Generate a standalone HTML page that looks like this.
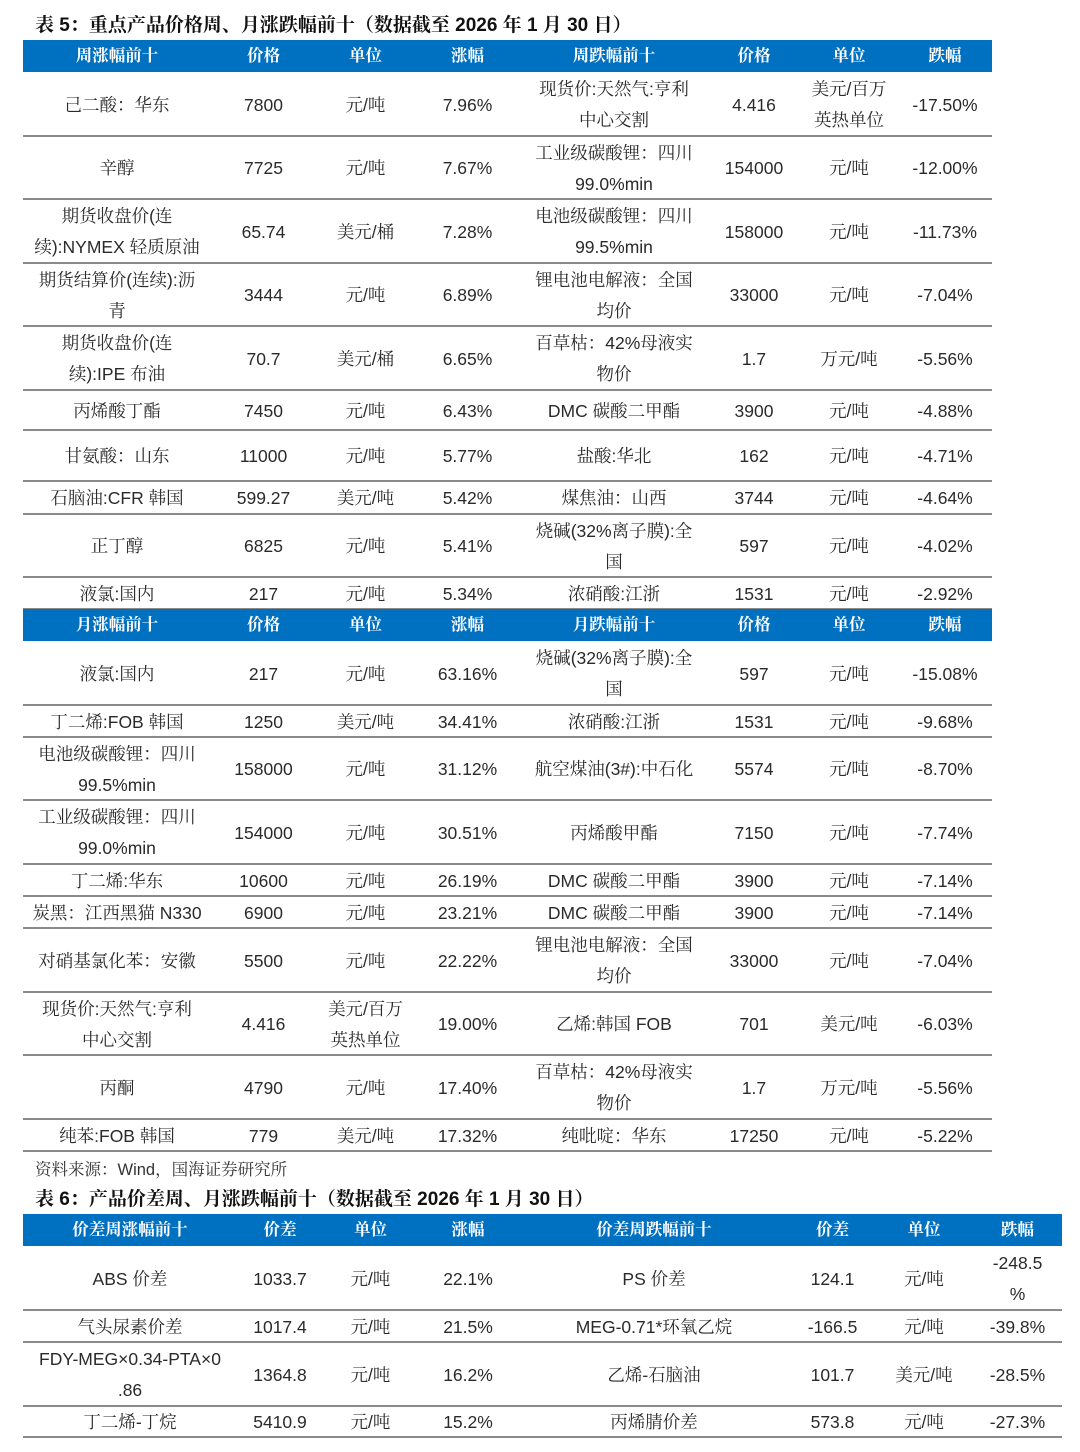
<!DOCTYPE html>
<html><head><meta charset="utf-8">
<style>
body{margin:0;width:1080px;height:1452px;background:#fff;position:relative;overflow:hidden;font-family:"Liberation Sans","Noto Serif CJK SC",serif;color:#2a2a2a}
.t{position:absolute;font-weight:bold;font-size:19px;color:#111;font-family:"Liberation Sans","Noto Serif CJK SC",serif;white-space:nowrap}
.c{position:absolute;display:flex;align-items:center;justify-content:center;text-align:center;font-size:17.5px;line-height:31px;box-sizing:border-box;padding:0 2px}
.h{background:#0070c0;color:#fff;font-weight:bold;font-size:16.5px}
.ln{position:absolute;height:2px;background:#8a8a8a}
</style></head><body>
<div class="t" style="left:35px;top:10px">表 5：重点产品价格周、月涨跌幅前十（数据截至 2026 年 1 月 30 日）</div>
<div class="t" style="left:35px;top:1184px">表 6：产品价差周、月涨跌幅前十（数据截至 2026 年 1 月 30 日）</div>
<div style="position:absolute;left:35px;top:1156px;font-size:16.5px;color:#333">资料来源：Wind，国海证券研究所</div>
<div id="root"></div>
<script>
const cols5=[23,211,316,415,520,708,800,898,992];
const cols6=[23,237,323,418,518,790,875,973,1062];
const header5a=["周涨幅前十","价格","单位","涨幅","周跌幅前十","价格","单位","跌幅"];
const header5b=["月涨幅前十","价格","单位","涨幅","月跌幅前十","价格","单位","跌幅"];
const header6=["价差周涨幅前十","价差","单位","涨幅","价差周跌幅前十","价差","单位","跌幅"];
const weekRows=[
["己二酸：华东","7800","元/吨","7.96%","现货价:天然气:亨利<br>中心交割","4.416","美元/百万<br>英热单位","-17.50%"],
["辛醇","7725","元/吨","7.67%","工业级碳酸锂：四川<br>99.0%min","154000","元/吨","-12.00%"],
["期货收盘价(连<br>续):NYMEX 轻质原油","65.74","美元/桶","7.28%","电池级碳酸锂：四川<br>99.5%min","158000","元/吨","-11.73%"],
["期货结算价(连续):沥<br>青","3444","元/吨","6.89%","锂电池电解液：全国<br>均价","33000","元/吨","-7.04%"],
["期货收盘价(连<br>续):IPE 布油","70.7","美元/桶","6.65%","百草枯：42%母液实<br>物价","1.7","万元/吨","-5.56%"],
["丙烯酸丁酯","7450","元/吨","6.43%","DMC 碳酸二甲酯","3900","元/吨","-4.88%"],
["甘氨酸：山东","11000","元/吨","5.77%","盐酸:华北","162","元/吨","-4.71%"],
["石脑油:CFR 韩国","599.27","美元/吨","5.42%","煤焦油：山西","3744","元/吨","-4.64%"],
["正丁醇","6825","元/吨","5.41%","烧碱(32%离子膜):全<br>国","597","元/吨","-4.02%"],
["液氯:国内","217","元/吨","5.34%","浓硝酸:江浙","1531","元/吨","-2.92%"]];
const monthRows=[
["液氯:国内","217","元/吨","63.16%","烧碱(32%离子膜):全<br>国","597","元/吨","-15.08%"],
["丁二烯:FOB 韩国","1250","美元/吨","34.41%","浓硝酸:江浙","1531","元/吨","-9.68%"],
["电池级碳酸锂：四川<br>99.5%min","158000","元/吨","31.12%","航空煤油(3#):中石化","5574","元/吨","-8.70%"],
["工业级碳酸锂：四川<br>99.0%min","154000","元/吨","30.51%","丙烯酸甲酯","7150","元/吨","-7.74%"],
["丁二烯:华东","10600","元/吨","26.19%","DMC 碳酸二甲酯","3900","元/吨","-7.14%"],
["炭黑：江西黑猫 N330","6900","元/吨","23.21%","DMC 碳酸二甲酯","3900","元/吨","-7.14%"],
["对硝基氯化苯：安徽","5500","元/吨","22.22%","锂电池电解液：全国<br>均价","33000","元/吨","-7.04%"],
["现货价:天然气:亨利<br>中心交割","4.416","美元/百万<br>英热单位","19.00%","乙烯:韩国 FOB","701","美元/吨","-6.03%"],
["丙酮","4790","元/吨","17.40%","百草枯：42%母液实<br>物价","1.7","万元/吨","-5.56%"],
["纯苯:FOB 韩国","779","美元/吨","17.32%","纯吡啶：华东","17250","元/吨","-5.22%"]];
const spreadRows=[
["ABS 价差","1033.7","元/吨","22.1%","PS 价差","124.1","元/吨","-248.5<br>%"],
["气头尿素价差","1017.4","元/吨","21.5%","MEG-0.71*环氧乙烷","-166.5","元/吨","-39.8%"],
["FDY-MEG×0.34-PTA×0<br>.86","1364.8","元/吨","16.2%","乙烯-石脑油","101.7","美元/吨","-28.5%"],
["丁二烯-丁烷","5410.9","元/吨","15.2%","丙烯腈价差","573.8","元/吨","-27.3%"]];
const y5a=[40,72];
const yWeek=[72,136,199,263,326,390,430,481,514,577,609];
const y5b=[609,641];
const yMonth=[641,705,737,800,864,896,928,992,1055,1119,1151];
const y6h=[1214,1246];
const ySpread=[1246,1310,1342,1406,1437];
const root=document.getElementById('root');
function header(cols,ys,labels,name){
  for(let i=0;i<labels.length;i++){
    const d=document.createElement('div');
    d.className='c h';
    
    
    d.style.left=cols[i]+'px';d.style.width=(cols[i+1]-cols[i])+'px';
    d.style.top=ys[0]+'px';d.style.height=(ys[1]-ys[0])+'px';
    d.textContent=labels[i];root.appendChild(d);
  }
}
function body(cols,ys,rows,name){
  rows.forEach((r,ri)=>{
    r.forEach((v,ci)=>{
      const d=document.createElement('div');
      d.className='c';
      
      
      d.style.left=cols[ci]+'px';d.style.width=(cols[ci+1]-cols[ci])+'px';
      d.style.top=(ys[ri]+1)+'px';d.style.height=(ys[ri+1]-ys[ri])+'px';
      d.innerHTML=v;root.appendChild(d);
    });
    const l=document.createElement('div');
    l.className='ln';
    
    
    l.style.left=cols[0]+'px';l.style.width=(cols[cols.length-1]-cols[0])+'px';
    l.style.top=(ys[ri+1]-1)+'px';root.appendChild(l);
  });
}
header(cols5,y5a,header5a,'weekly-header');
body(cols5,yWeek,weekRows,'weekly-row');
header(cols5,y5b,header5b,'monthly-header');
body(cols5,yMonth,monthRows,'monthly-row');
header(cols6,y6h,header6,'spread-header');
body(cols6,ySpread,spreadRows,'spread-row');
</script>
</body></html>
